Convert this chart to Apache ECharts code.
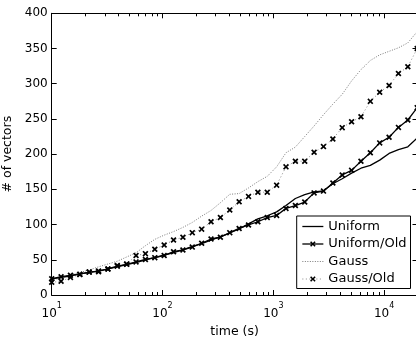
<!DOCTYPE html>
<html>
<head>
<meta charset="utf-8">
<script src="https://cdn.jsdelivr.net/npm/echarts@6/dist/echarts.min.js"></script>
<style>
  html, body { margin: 0; padding: 0; background: #fff; }
  #chart { width: 416px; height: 337px; }
</style>
</head>
<body>
<div id="chart"></div>
<script>
// Sample times (s), roughly 12 samples per decade
const times = [10, 12.15, 14.76, 17.94, 21.79, 26.48, 32.17, 39.08, 47.49, 57.69,
  70.09, 85.17, 103.5, 125.7, 152.8, 185.6, 225.5, 274.0, 332.9, 404.5,
  491.4, 597.1, 725.4, 881.4, 1071, 1301, 1581, 1920, 2333, 2835,
  3444, 4184, 5084, 6177, 7505, 9119, 11080, 13460, 16360, 19870];

// Number of vectors for each run
const uniform = [23, 25, 27, 30, 32, 34, 37, 40, 43, 46,
  50, 53, 57, 60, 64, 69, 73, 78, 83, 88,
  94, 101, 108, 112.5, 118, 127, 137, 142.5, 146.5, 148,
  158, 165, 173, 180, 184, 191.5, 201, 206.5, 210.5, 223];

const uniformOld = [23, 26, 28, 29.5, 32.5, 34, 37, 41, 43.5, 47,
  50.5, 53, 56, 61.5, 64, 68, 73.5, 79.5, 82, 88.5,
  94.5, 99.5, 104, 110, 113, 123, 127, 132, 145, 147.5,
  159, 170.5, 177, 190, 202, 216, 224, 238, 248.5, 266];

const gauss = [21, 24, 29, 32, 35.5, 40, 44, 48, 54, 60,
  70, 79, 85, 90, 96, 103, 112, 120, 131, 143,
  144, 152, 161, 168.5, 182, 202, 210, 225, 240, 256,
  271, 285, 304, 320, 333, 341, 346, 351, 358, 374];

const gaussOld = [18, 19.5, 25, 29, 32.5, 33, 37, 42, 44, 56,
  58.7, 65, 71, 78, 82, 88.5, 93.5, 104, 110, 120.7,
  132.5, 140, 146, 146, 156, 182, 190, 190, 202.7, 210.7,
  221.6, 237.6, 246, 253, 275, 288, 297.5, 314.5, 324, 350];

// Axis settings
const xMin = 10, xMax = 20000;
const yTicks = [0, 50, 100, 150, 200, 250, 300, 350, 400];

// Minor tick positions on the log axis (2..9 within each decade)
const minorTicks = [];
[10, 100, 1000, 10000].forEach(function (d) {
  for (let m = 2; m <= 9; m++) {
    if (d * m < xMax) minorTicks.push(d * m);
  }
});

const FONT = 'DejaVu Sans';
const CROSS = 'path://M0,2 L2,0 L5,3 L8,0 L10,2 L7,5 L10,8 L8,10 L5,7 L2,10 L0,8 L3,5 Z';

function pairs(vals) {
  return times.map(function (t, i) { return [t, vals[i]]; });
}

const chart = echarts.init(document.getElementById('chart'), null, { renderer: 'canvas' });

const axisLine = { show: true, onZero: false, lineStyle: { color: '#000', width: 1 } };
const majorTick = { show: true, inside: true, length: 5, lineStyle: { color: '#000', width: 1 } };

chart.setOption({
  animation: false,
  backgroundColor: '#fff',
  grid: { left: 51.7, top: 13.3, width: 365.8, height: 281.7, containLabel: false, outerBoundsMode: 'none' },
  xAxis: [
    {
      type: 'log', logBase: 10, min: xMin, max: xMax,
      name: 'time (s)', nameLocation: 'middle', nameGap: 19,
      nameTextStyle: { fontFamily: FONT, fontSize: 12.5, color: '#000' },
      axisLine: axisLine,
      axisTick: majorTick,
      splitLine: { show: false },
      axisLabel: {
        margin: 7, showMaxLabel: false,
        formatter: function (v) { return '{b|10}{s|' + Math.round(Math.log10(v)) + '}'; },
        rich: {
          b: { fontFamily: FONT, fontSize: 12, lineHeight: 18, verticalAlign: 'bottom', color: '#000' },
          s: { fontFamily: FONT, fontSize: 8, lineHeight: 8, verticalAlign: 'top', color: '#000' }
        }
      }
    },
    {
      type: 'log', logBase: 10, min: xMin, max: xMax, position: 'top',
      axisLine: axisLine,
      axisTick: majorTick,
      axisLabel: { show: false },
      splitLine: { show: false }
    }
  ],
  yAxis: [
    {
      type: 'value', min: yTicks[0], max: yTicks[yTicks.length - 1], interval: 50,
      name: '# of vectors', nameLocation: 'middle', nameGap: 29, nameRotate: 90,
      nameTextStyle: { fontFamily: FONT, fontSize: 12.5, color: '#000' },
      axisLine: axisLine,
      axisTick: majorTick,
      splitLine: { show: false },
      axisLabel: { margin: 4, fontFamily: FONT, fontSize: 12, color: '#000' }
    },
    {
      type: 'value', min: yTicks[0], max: yTicks[yTicks.length - 1], interval: 50, position: 'right',
      axisLine: axisLine,
      axisTick: majorTick,
      splitLine: { show: false },
      axisLabel: { show: false }
    }
  ],
  legend: {
    orient: 'vertical', left: 296.7, top: 216,
    padding: [3, 4, 2, 5],
    itemWidth: 21, itemHeight: 7, itemGap: 2.5,
    backgroundColor: '#fff', borderColor: '#000', borderWidth: 1, borderRadius: 0,
    selectedMode: false,
    textStyle: { fontFamily: FONT, fontSize: 13, lineHeight: 15, color: '#000' },
    lineStyle: { width: 'inherit' },
    data: [
      { name: 'Uniform', itemStyle: { opacity: 0 } },
      { name: 'Uniform/Old' },
      { name: 'Gauss', itemStyle: { opacity: 0 } },
      { name: 'Gauss/Old' }
    ]
  },
  series: [
    {
      name: 'Uniform', type: 'line', data: pairs(uniform), symbol: 'none',
      lineStyle: { color: '#000', width: 1.3 }, itemStyle: { color: '#000' },
      emphasis: { disabled: true }, z: 4
    },
    {
      name: 'Uniform/Old', type: 'line', data: pairs(uniformOld),
      symbol: CROSS, symbolSize: 6,
      lineStyle: { color: '#000', width: 1.3 }, itemStyle: { color: '#000', borderWidth: 0 },
      emphasis: { disabled: true }, z: 4
    },
    {
      name: 'Gauss', type: 'line', data: pairs(gauss), symbol: 'none',
      lineStyle: { color: '#7a7a7a', width: 1, type: [1, 1.5] }, itemStyle: { color: '#7a7a7a' },
      emphasis: { disabled: true }, z: 2
    },
    {
      name: 'Gauss/Old', type: 'line', data: pairs(gaussOld),
      symbol: CROSS, symbolSize: 6,
      lineStyle: { color: '#8a8a8a', width: 1, type: [1, 2.5] }, itemStyle: { color: '#000', borderWidth: 0 },
      emphasis: { disabled: true }, z: 3
    },
    {
      // minor ticks of the log axis, drawn on the bottom and top frame edges
      type: 'custom', silent: true, clip: false, z: 5,
      data: minorTicks.map(function (v) { return [v, 0]; }),
      renderItem: function (params, api) {
        const cs = params.coordSys;
        const x = Math.round(api.coord([api.value(0), 0])[0]) + 0.5;
        const bottom = cs.y + cs.height;
        return {
          type: 'group',
          children: [
            { type: 'line', shape: { x1: x, y1: bottom, x2: x, y2: bottom - 3 }, style: { stroke: '#000', lineWidth: 1 } },
            { type: 'line', shape: { x1: x, y1: cs.y, x2: x, y2: cs.y + 3 }, style: { stroke: '#000', lineWidth: 1 } }
          ]
        };
      }
    }
  ]
});
</script>
</body>
</html>
